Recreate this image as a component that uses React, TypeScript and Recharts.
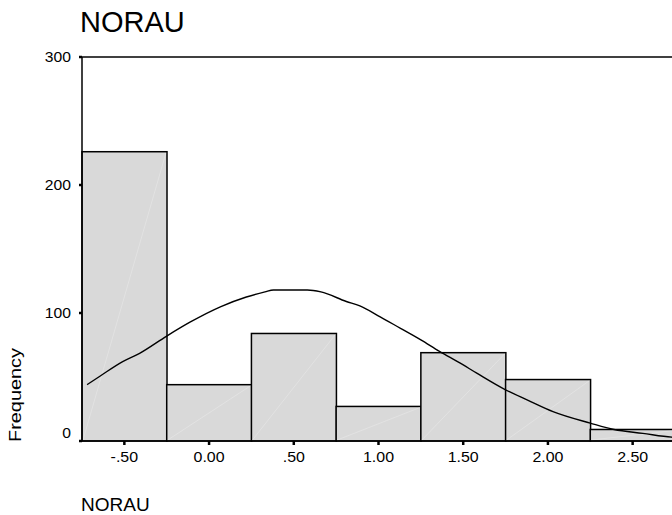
import { Bar, ComposedChart, Line, ReferenceLine, XAxis, YAxis } from "recharts"

const binLabels = ["-.50", "0.00", ".50", "1.00", "1.50", "2.00", "2.50"]
const frequencies = [226, 44, 84, 27, 69, 48, 9]
const yTicks = [0, 100, 200, 300]

// fitted normal curve, sampled along NORAU
const curveX = [-0.72, -0.64, -0.51, -0.41, -0.25, -0.11, 0.07, 0.22, 0.33, 0.38, 0.58, 0.66, 0.81, 0.89, 1.01, 1.13, 1.25, 1.36, 1.48, 1.58, 1.75, 1.88, 2.03, 2.25, 2.39, 2.56, 2.73, 2.75]
const curveY = [44, 51, 62, 68.5, 82, 93, 105, 112.5, 116.5, 118, 118, 116.5, 109, 105.5, 97, 88, 79, 70, 61, 53, 40, 32, 23, 14, 9, 6, 3, 2.8]

const bars = binLabels.map((bin, i) => ({ bin, count: frequencies[i] }))
const curve = curveX.map((x, i) => ({ x, fit: curveY[i] }))

const FONT = '"Liberation Sans", Arial, sans-serif'

function HistBar(props: any) {
  const { x, y, width, height } = props
  return (
    <g>
      <rect x={x} y={y} width={width} height={height} fill="#d9d9d9" stroke="#000" strokeWidth={1.5} />
      <line x1={x + 1} y1={y + height - 1} x2={x + width - 1} y2={y + 1} stroke="#fff" strokeOpacity={0.3} strokeWidth={0.8} />
    </g>
  )
}

// the axis labels use a slightly widened face
function BinTick({ x, y, payload }: any) {
  return (
    <text
      transform={`translate(${x},${y + 17}) scale(1.14,1)`}
      textAnchor="middle"
      fontSize={14}
      fontFamily={FONT}
      fill="#000"
    >
      {payload.value}
    </text>
  )
}

function CountTick({ x, y, payload }: any) {
  // the zero label sits just above the baseline
  const dy = payload.value === 0 ? -3 : 5
  return (
    <text
      transform={`translate(${x},${y + dy}) scale(1.12,1)`}
      textAnchor="end"
      fontSize={14}
      fontFamily={FONT}
      fill="#000"
    >
      {payload.value}
    </text>
  )
}

export default function App() {
  return (
    <div style={{ position: "fixed", left: 0, top: 0, width: 672, height: 515, overflow: "hidden", background: "#fff" }}>
      <ComposedChart
        width={690}
        height={515}
        data={bars}
        margin={{ top: 57, right: 15, bottom: 44, left: 0 }}
        barCategoryGap={0}
        barGap={0}
      >
        <XAxis
          xAxisId="bins"
          dataKey="bin"
          height={30}
          axisLine={{ stroke: "#000", strokeWidth: 1.5 }}
          tickLine={{ stroke: "#000", strokeWidth: 2.5 }}
          tickSize={4}
          tickMargin={0}
          tick={<BinTick />}
          interval={0}
        />
        <XAxis xAxisId="val" type="number" dataKey="x" domain={[-0.75, 2.75]} allowDataOverflow hide />
        <YAxis
          width={82}
          domain={[0, 300]}
          ticks={yTicks}
          axisLine={{ stroke: "#000", strokeWidth: 1.5 }}
          tickLine={{ stroke: "#000", strokeWidth: 2.5 }}
          tickSize={3}
          tickMargin={8}
          tick={<CountTick />}
        />
        <ReferenceLine xAxisId="bins" y={300} stroke="#000" strokeWidth={1.5} />
        <Bar xAxisId="bins" dataKey="count" shape={<HistBar />} isAnimationActive={false} />
        <Line
          xAxisId="val"
          data={curve}
          dataKey="fit"
          type="monotone"
          stroke="#000"
          strokeWidth={1.4}
          dot={false}
          activeDot={false}
          isAnimationActive={false}
        />
      </ComposedChart>
      <svg width={672} height={515} style={{ position: "absolute", left: 0, top: 0, pointerEvents: "none" }}>
        <text x={80} y={32} fontSize={29} fontFamily={FONT} fill="#000">NORAU</text>
        <text x={81} y={511} fontSize={19} fontFamily={FONT} fill="#000">NORAU</text>
        <text
          transform="translate(21,395) rotate(-90) scale(1.17,1)"
          textAnchor="middle"
          fontSize={17}
          fontFamily={FONT}
          fill="#000"
        >
          Frequency
        </text>
      </svg>
    </div>
  )
}
